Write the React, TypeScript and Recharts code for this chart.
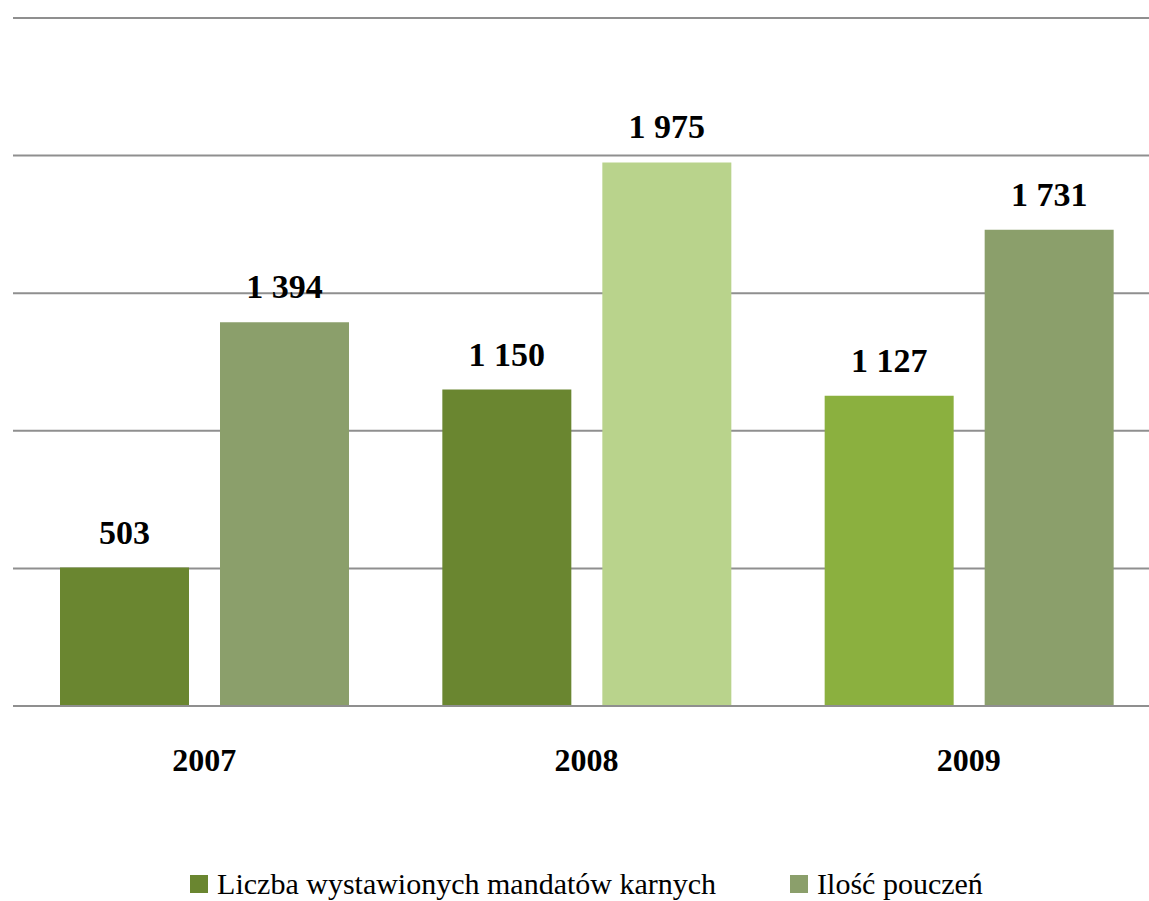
import React from 'react';
import { Bar, BarChart, CartesianGrid, Cell, LabelList, Legend, XAxis, YAxis } from 'recharts';

const years = ['2007', '2008', '2009'];
const mandaty = [503, 1150, 1127];
const pouczenia = [1394, 1975, 1731];
const yTicks = [0, 500, 1000, 1500, 2000, 2500];

const mandatyColors = ['#6a8630', '#6a8630', '#8bb03f'];
const pouczeniaColors = ['#8b9f6b', '#b9d38c', '#8b9f6b'];

const data = years.map((year, i) => ({
  year,
  mandaty: mandaty[i],
  pouczenia: pouczenia[i],
}));

const fmt = (v: number) => String(v).replace(/\B(?=(\d{3})+(?!\d))/g, ' ');

const FONT = '"Liberation Serif", "Times New Roman", serif';

const legendItems = [
  { label: 'Liczba wystawionych mandatów karnych', color: '#6a8630' },
  { label: 'Ilość pouczeń', color: '#8b9f6b' },
];

function ChartLegend() {
  return (
    <div style={{ display: 'flex', justifyContent: 'center', fontFamily: FONT, fontSize: 30, lineHeight: '34px', color: '#000' }}>
      {legendItems.map((it, i) => (
        <div key={it.label} style={{ display: 'flex', alignItems: 'center', marginLeft: i ? 74 : 0 }}>
          <span style={{ width: 18, height: 18, background: it.color, display: 'inline-block', marginRight: 9 }} />
          <span>{it.label}</span>
        </div>
      ))}
    </div>
  );
}

export default function App() {
  return (
    <div style={{ position: 'absolute', left: 0, top: 0, width: 1149, height: 901, overflow: 'hidden', background: '#fff' }}>
      <BarChart
        width={1170}
        height={901}
        data={data}
        margin={{ top: 18, right: 10, left: 13, bottom: 0 }}
        barCategoryGap={47}
        barGap={31}
      >
        <CartesianGrid horizontal vertical={false} stroke="#8f8f8f" strokeWidth={2} />
        <YAxis hide domain={[0, 2500]} ticks={yTicks} />
        <XAxis
          dataKey="year"
          height={80}
          axisLine={{ stroke: '#8f8f8f', strokeWidth: 2 }}
          tickLine={false}
          tickSize={0}
          tickMargin={42}
          tick={{ fill: '#000', fontFamily: FONT, fontSize: 32, fontWeight: 'bold' }}
        />
        <Legend
          verticalAlign="bottom"
          wrapperStyle={{ height: 115, paddingTop: 81, boxSizing: 'border-box' }}
          content={() => <ChartLegend />}
        />
        <Bar dataKey="mandaty" isAnimationActive={false}>
          {mandatyColors.map((c, i) => (
            <Cell key={i} fill={c} />
          ))}
          <LabelList dataKey="mandaty" position="top" offset={24} formatter={(v: any) => fmt(v)} style={{ fill: '#000', fontFamily: FONT, fontSize: 34, fontWeight: 'bold' }} />
        </Bar>
        <Bar dataKey="pouczenia" isAnimationActive={false}>
          {pouczeniaColors.map((c, i) => (
            <Cell key={i} fill={c} />
          ))}
          <LabelList dataKey="pouczenia" position="top" offset={24} formatter={(v: any) => fmt(v)} style={{ fill: '#000', fontFamily: FONT, fontSize: 34, fontWeight: 'bold' }} />
        </Bar>
      </BarChart>
    </div>
  );
}
